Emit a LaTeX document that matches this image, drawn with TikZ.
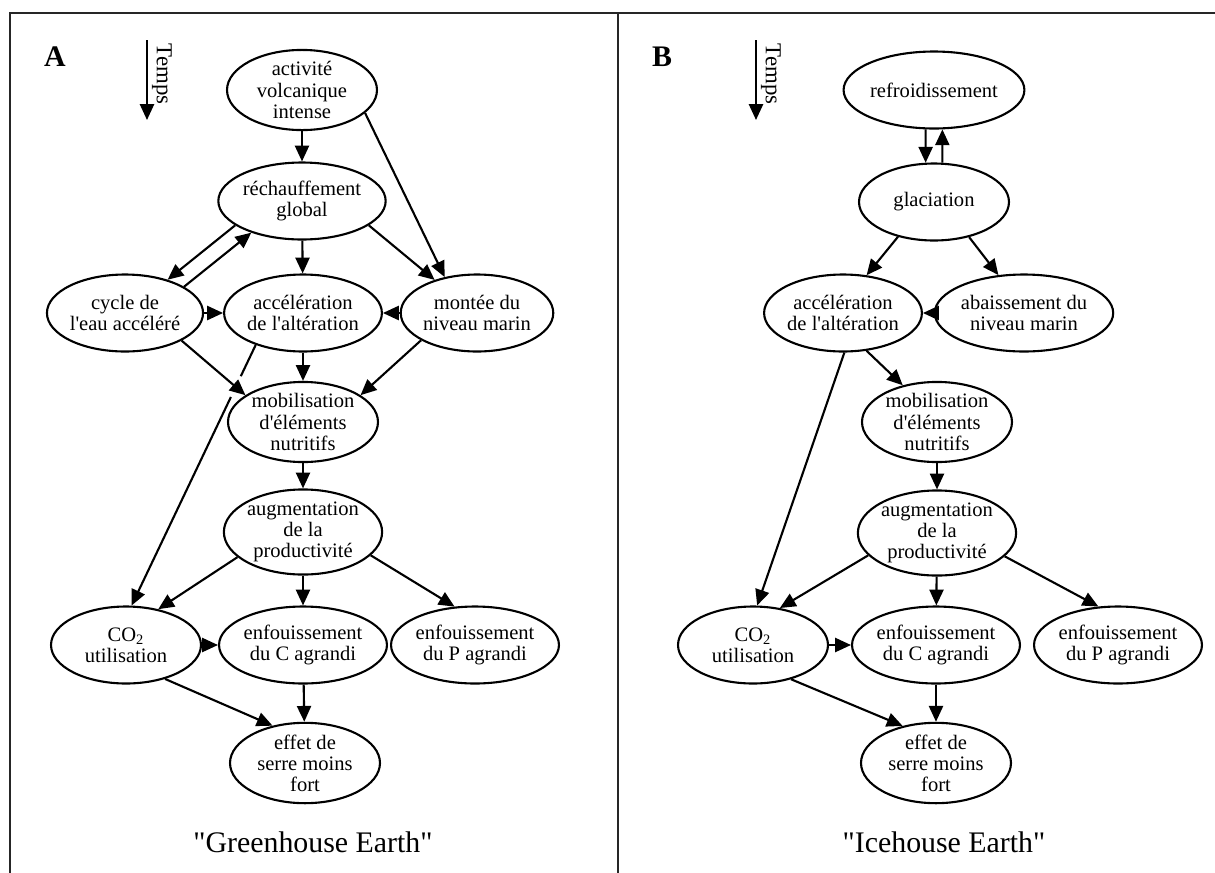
\documentclass[tikz,border=0pt]{standalone}
\usepackage{fontspec}
\setmainfont{Liberation Serif}
\usepackage{tikz}
\usetikzlibrary{shapes.geometric}
\usetikzlibrary{arrows.meta}
\usetikzlibrary{calc}

\begin{document}
\begin{tikzpicture}[x=0.02cm, y=-0.02cm,
        evt/.style={draw, ellipse, line width=1.2pt, minimum width=3cm, minimum height=1.54cm, inner sep=0pt, align=center, font=\fontsize{11.7}{12}\selectfont},
        fl/.style={-{Triangle[length=9pt,width=8pt]}, line width=1.2pt},
        panneau/.style={font=\fontsize{17}{20}\selectfont\bfseries},
        titre/.style={font=\fontsize{17}{20}\selectfont}]
        \useasboundingbox (0,0) rectangle (1215,873);

        % Cadre
        \draw[line width=1.5pt, black!85] (10,873) -- (10,13) -- (1215,13);
        \draw[line width=1.5pt, black!85] (618,13) -- (618,873);

        % ---------- A : Greenhouse Earth ----------
        \node[panneau] (labA) at (55,57) {A};
        \coordinate (tempsA1) at (147,40);
        \coordinate (tempsA2) at (147,120);
        \draw[fl] (tempsA1) -- (tempsA2);
        \node[rotate=-90, font=\fontsize{13}{15}\selectfont] (tempsA) at (162,74) {Temps};

        \node[evt] (volcA) at (302,90) {activité\\volcanique\\intense};
        \node[evt] (rechA) at (302,201) {réchauffement\\global};
        \node[evt] (cycleA) at (125,313) {cycle de\\l\textquotesingle eau accéléré};
        \node[evt] (accelA) at (303,313) {accélération\\de l\textquotesingle altération};
        \node[evt] (monteeA) at (477,313) {montée du\\niveau marin};
        \node[evt] (mobA) at (303,422) {mobilisation\\d\textquotesingle éléments\\nutritifs};
        \node[evt] (augA) at (303,532) {augmentation\\de la\\productivité};
        \node[evt] (co2A) at (126,645) {CO\textsubscript{2}\\utilisation};
        \node[evt] (enfCA) at (303,645) {enfouissement\\du C agrandi};
        \node[evt] (enfPA) at (475,645) {enfouissement\\du P agrandi};
        \node[evt] (effetA) at (305,763) {effet de\\serre moins\\fort};
        \node[titre] (titreA) at (313,842) {\textquotedbl Greenhouse Earth\textquotedbl};

        \draw[fl] (volcA) -- (rechA);
        \draw[fl] (volcA.-20) -- (monteeA.132);
        \draw[fl] (rechA.200) -- (cycleA.38);
        \draw[fl] (cycleA.24) -- (rechA.212);
        \draw[fl] (rechA) -- (accelA);
        \draw[fl] (rechA.-20) -- (monteeA.142);
        \draw[fl] (cycleA) -- (accelA);
        \draw[fl] (monteeA) -- (accelA);
        \draw[fl] (cycleA.-26) -- (mobA.155);
        \draw[fl] (accelA) -- (mobA);
        \draw[fl] (monteeA.206) -- (mobA.25);
        % long trait coupe (saut)
        \draw[line width=1.2pt] (accelA.214) -- ($(accelA.214)!0.12!(co2A.82)$);
        \draw[fl] ($(accelA.214)!0.2!(co2A.82)$) -- (co2A.82);
        \draw[fl] (mobA) -- (augA);
        \draw[fl] (augA.201) -- (co2A.48);
        \draw[fl] (augA) -- (enfCA);
        \draw[fl] (augA.-19) -- (enfPA.118);
        \draw[fl] (co2A) -- (enfCA);
        \draw[fl] (co2A.-41) -- (effetA.131);
        \draw[fl] (enfCA) -- (effetA);

        % ---------- B : Icehouse Earth ----------
        \node[panneau] (labB) at (662,57) {B};
        \coordinate (tempsB1) at (756,40);
        \coordinate (tempsB2) at (756,120);
        \draw[fl] (tempsB1) -- (tempsB2);
        \node[rotate=-90, font=\fontsize{13}{15}\selectfont] (tempsB) at (771,74) {Temps};

        \node[evt] (refrB) at (934,90) {refroidissement};
        \node[evt] (glacB) at (934,202) {glaciation};
        \node[evt] (accelB) at (843,313) {accélération\\de l\textquotesingle altération};
        \node[evt] (abaissB) at (1024,313) {abaissement du\\niveau marin};
        \node[evt] (mobB) at (937,422) {mobilisation\\d\textquotesingle éléments\\nutritifs};
        \node[evt] (augB) at (937,533) {augmentation\\de la\\productivité};
        \node[evt] (co2B) at (753,645) {CO\textsubscript{2}\\utilisation};
        \node[evt] (enfCB) at (936,645) {enfouissement\\du C agrandi};
        \node[evt] (enfPB) at (1118,645) {enfouissement\\du P agrandi};
        \node[evt] (effetB) at (936,763) {effet de\\serre moins\\fort};
        \node[titre] (titreB) at (944,842) {\textquotedbl Icehouse Earth\textquotedbl};

        \draw[fl] (refrB.-102) -- (glacB.102);
        \draw[fl] (glacB.78) -- (refrB.-78);
        \draw[fl] (glacB.224) -- (accelB.58);
        \draw[fl] (glacB.-45) -- (abaissB.124);
        \draw[fl] (abaissB) -- (accelB);
        \draw[fl] (accelB.-58) -- (mobB.133);
        \draw[fl] (accelB.-88) -- (co2B.84);
        \draw[fl] (mobB) -- (augB);
        \draw[fl] (augB.198) -- (co2B.54);
        \draw[fl] (augB) -- (enfCB);
        \draw[fl] (augB.-19) -- (enfPB.117);
        \draw[fl] (co2B) -- (enfCB);
        \draw[fl] (co2B.-42) -- (effetB.132);
        \draw[fl] (enfCB) -- (effetB);
    \end{tikzpicture}
\end{document}
